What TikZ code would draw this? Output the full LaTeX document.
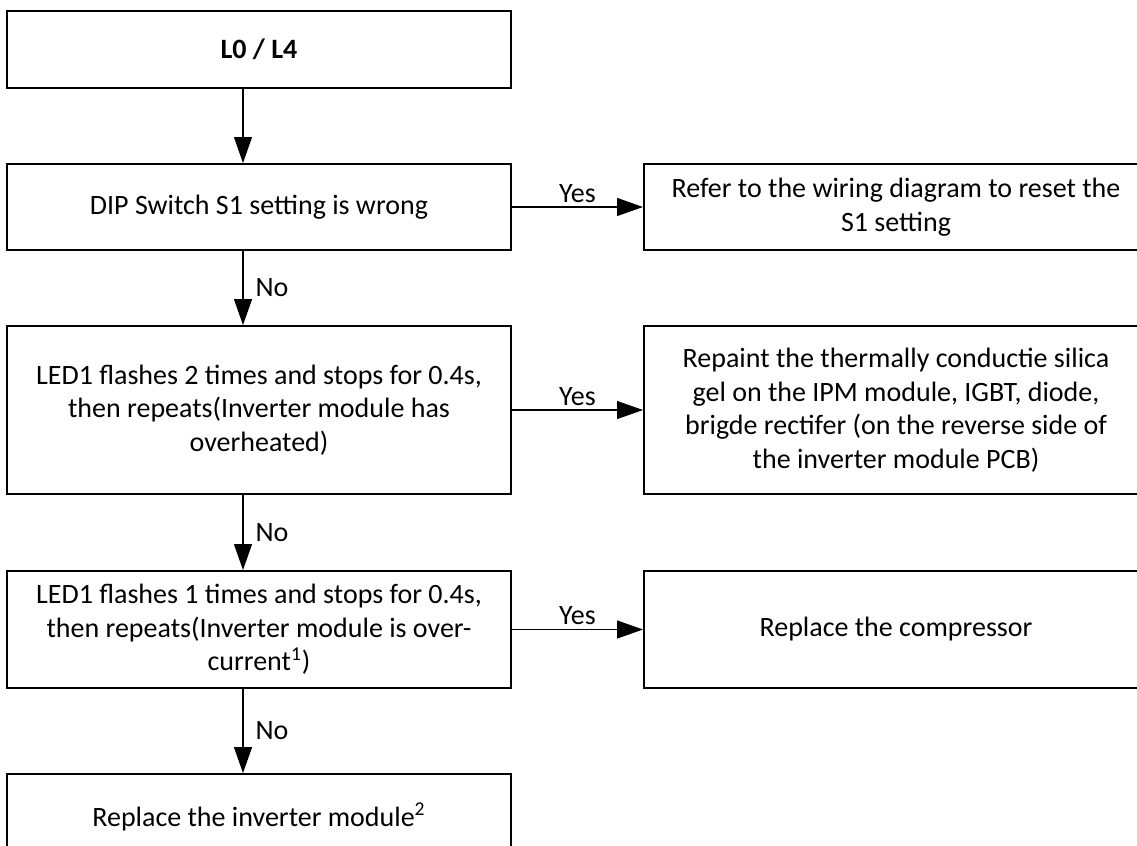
\documentclass[tikz,border=0pt]{standalone}
\usepackage{fontspec}
\setmainfont{Carlito}
\usetikzlibrary{arrows.meta,positioning}

\tikzset{
  stepbox/.style={draw,line width=1pt,minimum width=252pt,align=center,
    inner sep=0pt,font=\fontsize{14}{16.75}\selectfont},
  flow/.style={-{Triangle[length=13pt,width=9pt]},line width=0.6pt},
  lbl/.style={font=\fontsize{14}{16.75}\selectfont,inner sep=2pt}
}

\begin{document}
\begin{tikzpicture}[x=0.5pt,y=-0.5pt]
    \useasboundingbox (0,0) rectangle (1137,846);
    % left column
    \node[stepbox,minimum height=38.5pt] (start) at (259,49.5) {\textbf{L0 / L4}};
    \node[stepbox,minimum height=43pt] (dip) at (259,207) {DIP Switch S1 setting is wrong};
    \node[stepbox,minimum height=84pt] (heat) at (259,410)
        {LED1 flashes 2 times and stops for 0.4s,\\then repeats(Inverter module has\\overheated)};
    \node[stepbox,minimum height=58.5pt] (curr) at (259,629.5)
        {LED1 flashes 1 times and stops for 0.4s,\\then repeats(Inverter module is over-\\current\textsuperscript{1})};
    \node[stepbox,minimum height=43pt] (module) at (259,817) {Replace the inverter module\textsuperscript{2}};
    % right column
    \node[stepbox,minimum height=43pt] (reset) at (896,207)
        {Refer to the wiring diagram to reset the\\S1 setting};
    \node[stepbox,minimum height=84pt] (gel) at (896,410)
        {Repaint the thermally conductie silica\\gel on the IPM module, IGBT, diode,\\brigde rectifer (on the reverse side of\\the inverter module PCB)};
    \node[stepbox,minimum height=58.5pt] (comp) at (896,629.5) {Replace the compressor};
    % connectors
    \draw[flow] ([xshift=-8pt]start.south) -- ([xshift=-8pt]dip.north);
    \draw[flow] ([xshift=-8pt]dip.south) -- node[right=4pt,lbl] {No} ([xshift=-8pt]heat.north);
    \draw[flow] ([xshift=-8pt]heat.south) -- node[right=4pt,lbl] {No} ([xshift=-8pt]curr.north);
    \draw[flow] ([xshift=-8pt]curr.south) -- node[right=4pt,lbl] {No} ([xshift=-8pt]module.north);
    \draw[flow] (dip.east) -- node[above,lbl] {Yes} (reset.west);
    \draw[flow] (heat.east) -- node[above,lbl] {Yes} (gel.west);
    \draw[flow] (curr.east) -- node[above,lbl] {Yes} (comp.west);
\end{tikzpicture}
\end{document}
